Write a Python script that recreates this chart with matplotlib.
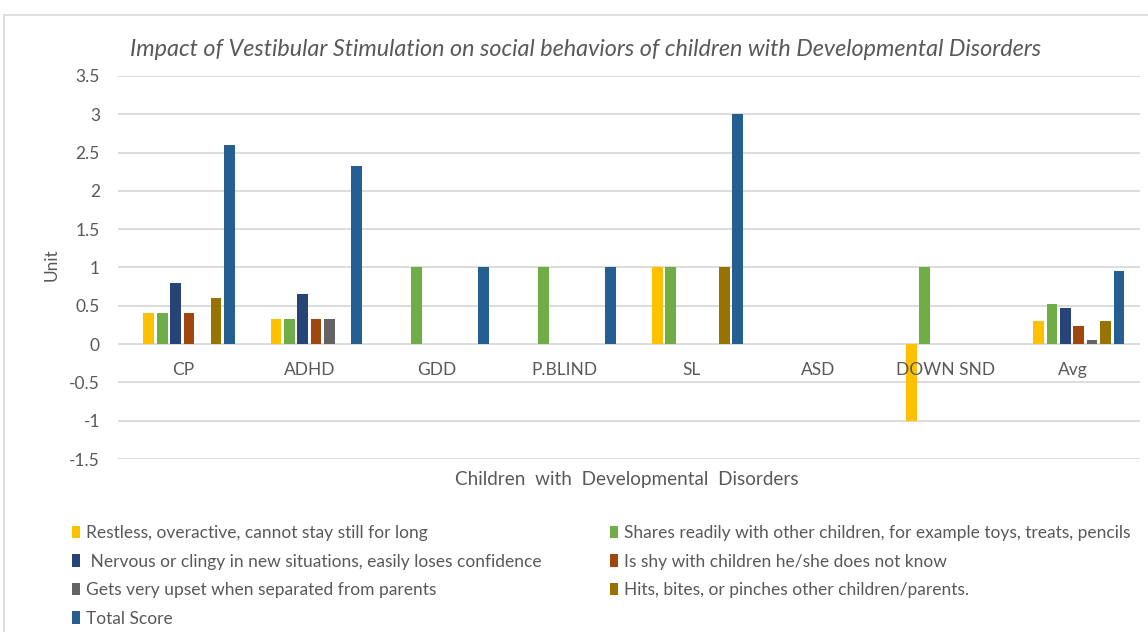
import numpy as np
import matplotlib.pyplot as plt
from matplotlib.patches import Rectangle, Patch

plt.rcParams['font.family'] = ['Lato', 'DejaVu Sans']

# 兒童類別
categories = ['CP', 'ADHD', 'GDD', 'P.BLIND', 'SL', 'ASD', 'DOWN SND', 'Avg']

# 各項行為的分數
restless = [0.4, 0.33, 0, 0, 1, 0, -1, 0.3]
shares = [0.4, 0.33, 1, 1, 1, 0, 1, 0.53]
nervous = [0.8, 0.66, 0, 0, 0, 0, 0, 0.47]
shy = [0.4, 0.33, 0, 0, 0, 0, 0, 0.23]
upset = [0, 0.33, 0, 0, 0, 0, 0, 0.06]
hits = [0.6, 0, 0, 0, 1, 0, 0, 0.3]
total = [2.6, 2.33, 1, 1, 3, 0, 0, 0.96]

series = [restless, shares, nervous, shy, upset, hits, total]
names = ['Restless, overactive, cannot stay still for long',
         'Shares readily with other children, for example toys, treats, pencils',
         ' Nervous or clingy in new situations, easily loses confidence',
         'Is shy with children he/she does not know',
         'Gets very upset when separated from parents',
         'Hits, bites, or pinches other children/parents.',
         'Total Score']
colors = ['#FFC000', '#70AD47', '#264478', '#9E480E', '#636363', '#997300', '#255E91']

yticks = [-1.5, -1, -0.5, 0, 0.5, 1, 1.5, 2, 2.5, 3, 3.5]

W, H = 1148, 632
fig = plt.figure(figsize=(W / 100, H / 100), dpi=100)
ax = fig.add_axes([118 / W, 1 - 459 / H, (1140 - 118) / W, (459 - 76) / H])

# 外框
fig.patches.append(Rectangle((4 / W, -0.01), 1.01, 1 - 15 / H + 0.01,
                             transform=fig.transFigure, fill=False,
                             edgecolor='#D9D9D9', linewidth=1.2))

x = np.arange(len(categories))
step = 0.1055
width = 0.084
for k, (vals, c) in enumerate(zip(series, colors)):
    ax.bar(x + (k - 3) * step, vals, width, color=c, linewidth=0, zorder=3)

ax.set_xlim(-0.559, 7.482)
ax.set_ylim(-1.5, 3.5)
ax.set_yticks(yticks)
ax.set_yticklabels([f'{v:g}' for v in yticks], fontsize=12.5, color='#595959')
ax.tick_params(axis='y', length=0, pad=13)
ax.set_xticks([])
ax.grid(axis='y', color='#D9D9D9', linewidth=1.3, zorder=0)
for s in ax.spines.values():
    s.set_visible(False)

# 類別名稱放在零線下方
for i, name in enumerate(categories):
    ax.text(i - 0.05, -0.34, name, ha='center', va='center',
            fontsize=12.5, color='#595959')

fig.text(586 / W, 1 - 50 / H,
         'Impact of Vestibular Stimulation on social behaviors of children with Developmental Disorders',
         ha='center', va='center', fontsize=16.8, style='italic', color='#595959')
fig.text(627 / W, 1 - 479 / H, 'Children  with  Developmental  Disorders',
         ha='center', va='center', fontsize=13.6, color='#595959')
fig.text(52 / W, 1 - 265 / H, 'Unit', ha='center', va='center',
         rotation=90, fontsize=12.5, color='#595959')

# 圖例分兩欄
handles = [Patch(facecolor=c) for c in colors]
col1 = [0, 2, 4, 6]
col2 = [1, 3, 5]
for idx, xpos in ((col1, 72), (col2, 610)):
    fig.legend([handles[i] for i in idx], [names[i] for i in idx],
               loc='upper left', bbox_to_anchor=(xpos / W, 1 - 525 / H),
               frameon=False, fontsize=12.5, labelcolor='#595959',
               handlelength=0.45, handleheight=0.75, handletextpad=0.35,
               labelspacing=0.72, borderaxespad=0, borderpad=0)

fig.savefig('out.png', dpi=100)
